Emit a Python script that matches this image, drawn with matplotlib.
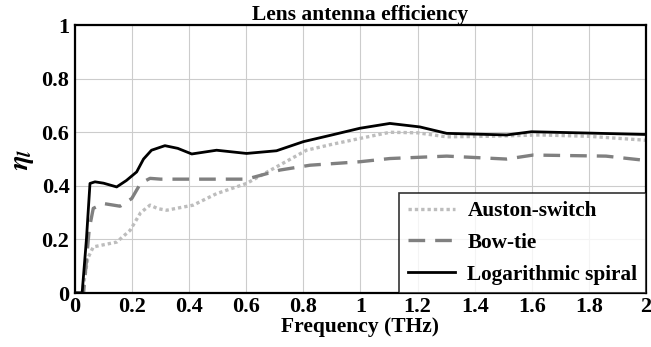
import numpy as np
import matplotlib.pyplot as plt

# frequency axis (THz) and efficiency of each antenna
freq_auston = [0, 0.025, 0.045, 0.064, 0.1, 0.146, 0.193, 0.23, 0.263, 0.29, 0.321,
               0.414, 0.496, 0.601, 0.706, 0.811, 0.9, 0.998, 1.103, 1.2, 1.302,
               1.45, 1.63, 1.8, 1.99, 2.0]
eff_auston = [0, 0.0, 0.13, 0.172, 0.18, 0.19, 0.234, 0.3, 0.328, 0.315, 0.309,
              0.328, 0.371, 0.409, 0.471, 0.533, 0.555, 0.577, 0.6, 0.598, 0.583,
              0.585, 0.59, 0.585, 0.571, 0.57]

freq_bowtie = [0, 0.03, 0.05, 0.064, 0.1, 0.158, 0.199, 0.23, 0.263, 0.3, 0.414,
               0.601, 0.718, 0.823, 0.998, 1.103, 1.302, 1.512, 1.605, 1.86, 1.99, 2.0]
eff_bowtie = [0, 0.0, 0.24, 0.316, 0.334, 0.324, 0.353, 0.41, 0.428, 0.425, 0.425,
              0.425, 0.459, 0.477, 0.49, 0.502, 0.511, 0.5, 0.515, 0.511, 0.496, 0.495]

freq_spiral = [0, 0.025, 0.04, 0.0525, 0.07, 0.1, 0.146, 0.18, 0.216, 0.24, 0.268,
               0.315, 0.36, 0.409, 0.496, 0.601, 0.706, 0.8, 0.9, 0.998, 1.103,
               1.208, 1.302, 1.512, 1.599, 1.8, 1.99, 2.0]
eff_spiral = [0, 0.0, 0.2, 0.409, 0.415, 0.41, 0.396, 0.42, 0.452, 0.5, 0.533,
              0.55, 0.54, 0.519, 0.533, 0.521, 0.531, 0.565, 0.59, 0.615, 0.633,
              0.62, 0.596, 0.59, 0.602, 0.597, 0.592, 0.592]

plt.rcParams['font.family'] = ['Liberation Serif', 'DejaVu Serif']
plt.rcParams['font.weight'] = 'bold'
plt.rcParams['mathtext.fontset'] = 'stix'

fig = plt.figure(figsize=(6.51, 3.47), dpi=100)
ax = fig.add_axes([0.1152, 0.1556, 0.877, 0.772])

ax.plot(freq_auston, eff_auston, color='#bdbdbd', lw=2.4, ls=(0, (1, 0.9)),
        label='Auston-switch')
ax.plot(freq_bowtie, eff_bowtie, color='#808080', lw=2.4, ls=(0, (5, 3)),
        label='Bow-tie')
ax.plot(freq_spiral, eff_spiral, color='black', lw=2.0, label='Logarithmic spiral')

ax.set_xlim(0, 2)
ax.set_ylim(0, 1)
ax.set_xticks(np.arange(0, 2.01, 0.2))
ax.set_yticks(np.arange(0, 1.01, 0.2))
ax.set_xticklabels(['0', '0.2', '0.4', '0.6', '0.8', '1', '1.2', '1.4', '1.6', '1.8', '2'])
ax.set_yticklabels(['0', '0.2', '0.4', '0.6', '0.8', '1'])
ax.tick_params(axis='x', length=0, labelsize=16, pad=3)
ax.tick_params(axis='y', length=0, labelsize=16, pad=4)
ax.grid(True, color='#cccccc', lw=0.8)
for s in ax.spines.values():
    s.set_linewidth(1.6)

ax.set_title('Lens antenna efficiency', fontsize=15.5, fontweight='bold', pad=1)
ax.set_xlabel('Frequency (THz)', fontsize=15.5, fontweight='bold', labelpad=0)
ax.set_ylabel(r'$\eta_l$', fontsize=20, labelpad=4)

leg = ax.legend(loc='lower right', fontsize=15.3, frameon=True, fancybox=False,
                edgecolor='black', borderaxespad=0, handlelength=2.2,
                handletextpad=0.6, borderpad=0.4, labelspacing=0.55)
leg.get_frame().set_linewidth(1.2)

fig.savefig('out.png', dpi=100)
